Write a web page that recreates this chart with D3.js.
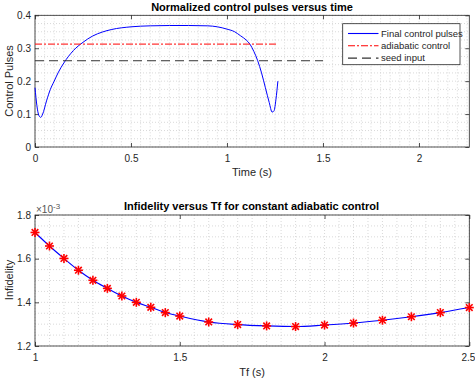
<!DOCTYPE html>
<html>
<meta charset="utf-8">
<head>
<script src="https://d3js.org/d3.v7.min.js"></script>
<style>
  body { margin: 0; background: #fff; }
  svg { display: block; font-family: "Liberation Sans", Arial, sans-serif; }
</style>
</head>
<body>
<script>
// top panel: optimised pulse and the two reference levels
var pulseTime  = [0, 0.01, 0.02, 0.03, 0.04, 0.06, 0.08, 0.1, 0.12, 0.15, 0.2, 0.25, 0.3, 0.35, 0.4, 0.5, 0.6, 0.7, 0.8, 0.9, 0.95, 1.0, 1.04, 1.07, 1.1, 1.12, 1.14, 1.16, 1.18, 1.2, 1.22, 1.235, 1.245, 1.255, 1.265];
var pulseValue = [0.18, 0.125, 0.096, 0.09, 0.1, 0.14, 0.175, 0.2, 0.225, 0.255, 0.293, 0.318, 0.337, 0.349, 0.357, 0.365, 0.368, 0.369, 0.369, 0.368, 0.365, 0.358, 0.35, 0.338, 0.325, 0.312, 0.29, 0.262, 0.225, 0.18, 0.135, 0.106, 0.11, 0.145, 0.2];
var adiabaticTime  = [0, 1.265];
var adiabaticValue = [0.3125, 0.3125];
var seedTime  = [0, 1.5];
var seedValue = [0.262, 0.262];
var topXTicks = [0, 0.5, 1, 1.5, 2];
var topYTicks = [0, 0.1, 0.2, 0.3, 0.4];
var legendLabels = ["Final control pulses", "adiabatic control", "seed input"];

// bottom panel: infidelity (x1e-3) vs final time
var tf = [1, 1.05, 1.1, 1.15, 1.2, 1.25, 1.3, 1.35, 1.4, 1.45, 1.5, 1.6, 1.7, 1.8, 1.9, 2.0, 2.1, 2.2, 2.3, 2.4, 2.5];
var infidelity = [1.72, 1.658, 1.601, 1.547, 1.501, 1.464, 1.429, 1.400, 1.377, 1.353, 1.337, 1.310, 1.298, 1.292, 1.289, 1.296, 1.305, 1.318, 1.334, 1.353, 1.376];
var botXTicks = [1, 1.5, 2, 2.5];
var botYTicks = [1.2, 1.4, 1.6, 1.8];

var W = 475, H = 379;
var axisCol = "#262626";
var svg = d3.select("body").append("svg").attr("width", W).attr("height", H);

function panel(top, bottom, xDom, yDom, xTicks, yTicks, xMinor, yMinor, fmtY) {
  var x = d3.scaleLinear().domain(xDom).range([35, 469.3]);
  var y = d3.scaleLinear().domain(yDom).range([bottom, top]);
  var g = svg.append("g");

  // minor grid (dotted, like matlab grid minor)
  var mx = d3.range(xDom[0], xDom[1] + 1e-9, xMinor);
  var my = d3.range(yDom[0], yDom[1] + 1e-9, yMinor);
  g.selectAll(".gx").data(mx).join("line")
    .attr("x1", d => x(d)).attr("x2", d => x(d)).attr("y1", top).attr("y2", bottom)
    .attr("stroke", "#c8c8c8").attr("stroke-width", 0.7).attr("stroke-dasharray", "1,2");
  g.selectAll(".gy").data(my).join("line")
    .attr("x1", 35).attr("x2", 469.3).attr("y1", d => y(d)).attr("y2", d => y(d))
    .attr("stroke", "#c8c8c8").attr("stroke-width", 0.7).attr("stroke-dasharray", "1,2");

  // box
  g.append("rect").attr("x", 35).attr("y", top).attr("width", 434.3).attr("height", bottom - top)
    .attr("fill", "none").attr("stroke", axisCol).attr("stroke-width", 0.8);

  g.append("g").attr("transform", "translate(0," + bottom + ")")
    .call(d3.axisBottom(x).tickValues(xTicks).tickSize(-4).tickPadding(8).tickFormat(d3.format("")));
  g.append("g").attr("transform", "translate(35,0)")
    .call(d3.axisLeft(y).tickValues(yTicks).tickSize(-4).tickPadding(4).tickFormat(fmtY));
  g.append("g").attr("transform", "translate(0," + top + ")")
    .call(d3.axisTop(x).tickValues(xTicks).tickSize(-4).tickFormat(""));
  g.append("g").attr("transform", "translate(469.3,0)")
    .call(d3.axisRight(y).tickValues(yTicks).tickSize(-4).tickFormat(""));
  g.selectAll(".domain").remove();
  g.selectAll(".tick line").attr("stroke", axisCol).attr("stroke-width", 0.8);
  g.selectAll(".tick text").attr("fill", axisCol).style("font-size", "10px");
  return { x: x, y: y, g: g };
}

// ---- top panel
var p1 = panel(15.3, 147, [0, 2.262], [0, 0.4], topXTicks, topYTicks, 0.05, 0.025, d3.format(""));
p1.g.append("path").datum(d3.zip(pulseTime, pulseValue))
  .attr("d", d3.line().x(d => p1.x(d[0])).y(d => p1.y(d[1])).curve(d3.curveMonotoneX))
  .attr("fill", "none").attr("stroke", "#0000ff").attr("stroke-width", 1);
p1.g.append("path").datum(d3.zip(adiabaticTime, adiabaticValue))
  .attr("d", d3.line().x(d => p1.x(d[0])).y(d => p1.y(d[1]))).attr("fill", "none")
  .attr("stroke", "#ff0000").attr("stroke-width", 1).attr("stroke-dasharray", "7,2,2,2");
p1.g.append("path").datum(d3.zip(seedTime, seedValue))
  .attr("d", d3.line().x(d => p1.x(d[0])).y(d => p1.y(d[1]))).attr("fill", "none")
  .attr("stroke", "#333").attr("stroke-width", 1).attr("stroke-dasharray", "9,5");

svg.append("text").attr("x", 252).attr("y", 11).attr("text-anchor", "middle")
  .style("font-size", "11px").style("font-weight", "bold").text("Normalized control pulses versus time");
svg.append("text").attr("x", 252).attr("y", 176).attr("text-anchor", "middle")
  .attr("fill", axisCol).style("font-size", "11px").text("Time (s)");
svg.append("text").attr("transform", "translate(12.5,81) rotate(-90)").attr("text-anchor", "middle")
  .attr("fill", axisCol).style("font-size", "11px").text("Control Pulses");

// legend
var lg = svg.append("g");
lg.append("rect").attr("x", 342.7).attr("y", 23.7).attr("width", 117.3).attr("height", 41)
  .attr("fill", "#fff").attr("stroke", axisCol).attr("stroke-width", 0.8);
var legStyles = [
  { c: "#0000ff", d: "none" },
  { c: "#ff0000", d: "7,2,2,2" },
  { c: "#333", d: "9,5" }
];
legendLabels.forEach(function (t, i) {
  var yy = 33.5 + i * 12.3;
  lg.append("line").attr("x1", 348).attr("x2", 378.5).attr("y1", yy).attr("y2", yy)
    .attr("stroke", legStyles[i].c).attr("stroke-width", 1.1).attr("stroke-dasharray", legStyles[i].d);
  lg.append("text").attr("x", 381).attr("y", yy + 3.3).attr("fill", axisCol)
    .style("font-size", "9.5px").text(t);
});

// ---- bottom panel
var p2 = panel(215, 346, [1, 2.5], [1.2, 1.8], botXTicks, botYTicks, 0.05, 0.05, d3.format(".1f"));
// last x label sits at the window edge, keep it inside
p2.g.selectAll(".tick text").filter(d => d === 2.5).attr("text-anchor", "end").attr("x", 5.5);
var pts = d3.zip(tf, infidelity);
p2.g.append("path").datum(pts)
  .attr("d", d3.line().x(d => p2.x(d[0])).y(d => p2.y(d[1])).curve(d3.curveMonotoneX))
  .attr("fill", "none").attr("stroke", "#0000ff").attr("stroke-width", 1.1);
var star = p2.g.selectAll(".star").data(pts).join("g")
  .attr("transform", d => "translate(" + p2.x(d[0]) + "," + p2.y(d[1]) + ")");
[[-4.5, 0, 4.5, 0], [0, -4.5, 0, 4.5], [-3.3, -3.3, 3.3, 3.3], [-3.3, 3.3, 3.3, -3.3]].forEach(function (s) {
  star.append("line").attr("x1", s[0]).attr("y1", s[1]).attr("x2", s[2]).attr("y2", s[3])
    .attr("stroke", "#ff0000").attr("stroke-width", 1.6);
});

svg.append("text").attr("x", 251.5).attr("y", 210).attr("text-anchor", "middle")
  .style("font-size", "11px").style("font-weight", "bold").text("Infidelity versus Tf for constant adiabatic control");
svg.append("text").attr("x", 252).attr("y", 376).attr("text-anchor", "middle")
  .attr("fill", axisCol).style("font-size", "11px").text("Tf (s)");
svg.append("text").attr("transform", "translate(12.5,280) rotate(-90)").attr("text-anchor", "middle")
  .attr("fill", axisCol).style("font-size", "11px").text("Infidelity");
var ex = svg.append("text").attr("x", 36).attr("y", 212.5).attr("fill", "#555").style("font-size", "10px");
ex.append("tspan").text("×10");
ex.append("tspan").attr("dy", -4).style("font-size", "8px").text("-3");
</script>
</body>
</html>
